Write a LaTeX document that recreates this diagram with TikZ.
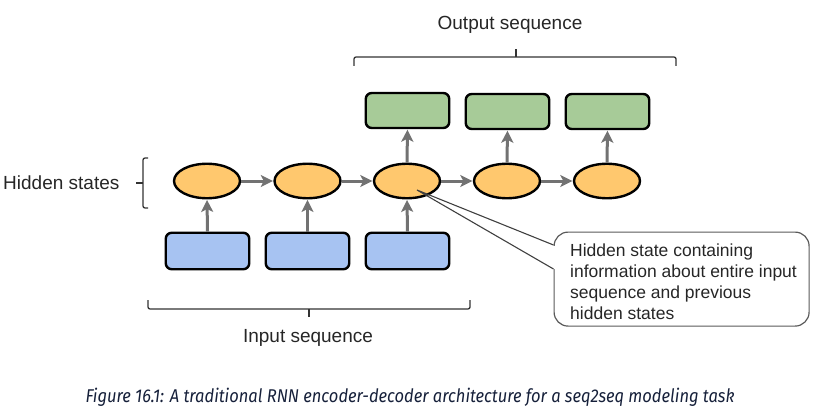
\documentclass[tikz,border=0pt]{standalone}
\usepackage{fontspec}
\setmainfont{Liberation Sans}
\newfontfamily\capfont{Fira Sans}
\usetikzlibrary{arrows.meta,shapes.geometric}
\definecolor{hidfill}{HTML}{FFC86E}
\definecolor{infill}{HTML}{A7C3F2}
\definecolor{outfill}{HTML}{A7CB98}
\definecolor{arrowgray}{HTML}{727272}
\definecolor{capcol}{RGB}{22,32,58}
\tikzset{
  hid/.style={ellipse, draw=black, line width=2.4pt, fill=hidfill, minimum width=66pt, minimum height=34.5pt, inner sep=0pt},
  inbox/.style={rectangle, rounded corners=6pt, draw=black, line width=2.4pt, fill=infill, minimum width=83.5pt, minimum height=36.5pt, inner sep=0pt},
  outbox/.style={rectangle, rounded corners=6pt, draw=black, line width=2.4pt, fill=outfill, minimum width=83.5pt, minimum height=35pt, inner sep=0pt},
  flow/.style={draw=arrowgray, line width=3pt, -{Stealth[length=12pt,width=12pt,inset=3pt]}, shorten >=0.5pt},
  bracket/.style={draw=black!80, line width=1.3pt, rounded corners=2pt},
  lbl/.style={font=\fontsize{19}{22}\selectfont, text=black!85, inner sep=0pt},
}
\begin{document}
\begin{tikzpicture}[x=1pt,y=-1pt]
\useasboundingbox (0,0) rectangle (820,420);
% hidden states
\node[hid] (h1) at (207,181) {};
\node[hid] (h2) at (307.5,181) {};
\node[hid] (h3) at (407,181) {};
\node[hid] (h4) at (507,181) {};
\node[hid] (h5) at (607,181) {};
% inputs
\node[inbox] (x1) at (207.5,251) {};
\node[inbox] (x2) at (307.5,251) {};
\node[inbox] (x3) at (407.5,251) {};
% outputs
\node[outbox] (y1) at (407.5,110.5) {};
\node[outbox] (y2) at (507.5,111.5) {};
\node[outbox] (y3) at (607.5,111.5) {};
% arrows
\draw[flow] (h1) -- (h2);
\draw[flow] (h2) -- (h3);
\draw[flow] (h3) -- (h4);
\draw[flow] (h4) -- (h5);
\draw[flow] (x1.north) -- (h1.south);
\draw[flow] (x2.north) -- (h2.south);
\draw[flow] (x3.north) -- (h3.south);
\draw[flow] (h3.north) -- (y1.south);
\draw[flow] (h4.north) -- (y2.south);
\draw[flow] (h5.north) -- (y3.south);
% labels
\node[lbl] (outlbl) at (510,25) {Output sequence};
\node[lbl] (inlbl) at (308,338) {Input sequence};
\node[lbl, anchor=west] (hidlbl) at (3,183) {Hidden states};
% brackets
\coordinate (ob1) at (354,66);
\coordinate (ob2) at (676,66);
\coordinate (obt) at (516,49);
\draw[bracket] (ob1) -- (354,57) -- (676,57) -- (ob2);
\draw[bracket] (516,57) -- (obt);
\coordinate (ib1) at (148,300);
\coordinate (ib2) at (470,300);
\coordinate (ibt) at (309,317);
\draw[bracket] (ib1) -- (148,309) -- (470,309) -- (ib2);
\draw[bracket] (309,309) -- (ibt);
\coordinate (hb1) at (148,158);
\coordinate (hb2) at (148,208);
\coordinate (hbt) at (136,183);
\draw[bracket] (hb1) -- (143,158) -- (143,208) -- (hb2);
\draw[bracket] (143,183) -- (hbt);
% callout
\node[draw=black!65, line width=1.2pt, rounded corners=14pt, minimum width=255pt, minimum height=94pt, anchor=north west, inner sep=0pt] (callout) at (553.5,231.5) {};
\fill[white] (551,245.5) rectangle (556,268.5);
\coordinate (tip) at (417,190);
\coordinate (ca) at (553.5,245);
\coordinate (cb) at (553.5,269);
\draw[black!75, line width=1.1pt] (ca) -- (tip) -- (cb);
\node[anchor=west, align=left, inner sep=0pt, font=\fontsize{17.5}{21}\selectfont, text=black!85] (calltext) at (570,281.5)
  {Hidden state containing\\information about entire input\\sequence and previous\\hidden states};
% caption
\node[inner sep=0pt, text=capcol] (caption) at (410,397)
  {\resizebox{649pt}{\height}{\capfont\itshape\fontsize{18.5}{22}\selectfont Figure 16.1: A traditional RNN encoder-decoder architecture for a seq2seq modeling task}};
\end{tikzpicture}
\end{document}
